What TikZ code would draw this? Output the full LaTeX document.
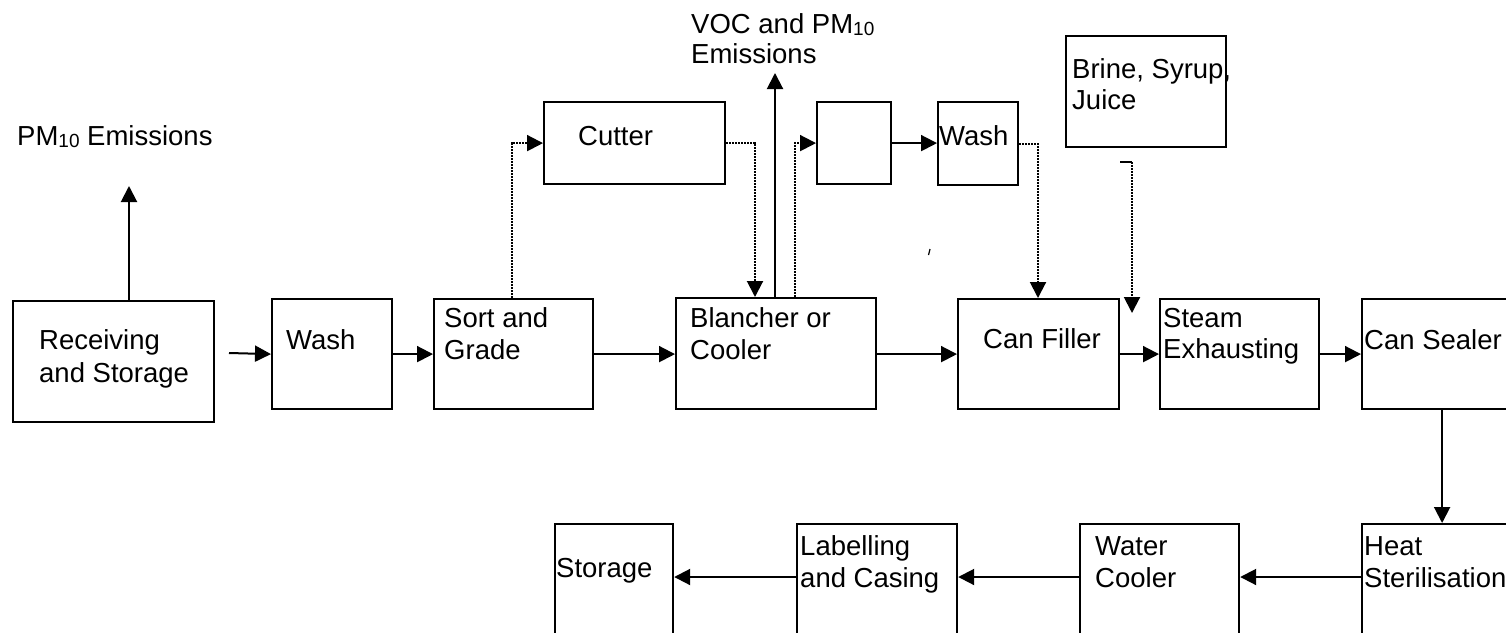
\documentclass[tikz,border=0pt]{standalone}
\usepackage{fontspec}
\setmainfont{Liberation Sans}
\usetikzlibrary{arrows.meta}
\newcommand{\subten}{\raisebox{-2.5pt}{\fontsize{19}{19}\selectfont 10}}
\begin{document}
\begin{tikzpicture}[x=1pt,y=-1pt,
  box/.style={draw,line width=2.2pt,inner sep=0pt,anchor=north west},
  txt/.style={inner sep=0pt,anchor=base west,font=\fontsize{27.5}{31.5}\selectfont},
  arr/.style={line width=2pt,-{Triangle[length=16pt,width=16pt]}},
  dotln/.style={line width=2pt,dash pattern=on 2pt off 1pt},
  plain/.style={line width=2pt}]
\useasboundingbox (0,0) rectangle (1506,632);
\clip (0,0) rectangle (1506,632);
% boxes
\node[box,minimum width=201,minimum height=121] (rec) at (12,300) {};
\node[box,minimum width=120,minimum height=110] (wash1) at (271,298) {};
\node[box,minimum width=159,minimum height=110] (sort) at (433,298) {};
\node[box,minimum width=181,minimum height=82] (cutter) at (543,101) {};
\node[box,minimum width=200,minimum height=111] (blanch) at (675,297) {};
\node[box,minimum width=74,minimum height=82] (empty) at (816,101) {};
\node[box,minimum width=80,minimum height=83] (wash2) at (937,101) {};
\node[box,minimum width=160,minimum height=111] (brine) at (1065,35) {};
\node[box,minimum width=161,minimum height=110] (filler) at (957,298) {};
\node[box,minimum width=159,minimum height=110] (steam) at (1159,298) {};
\node[box,minimum width=160,minimum height=110] (sealer) at (1361,298) {};
\node[box,minimum width=160,minimum height=140] (heat) at (1361,523) {};
\node[box,minimum width=159,minimum height=140] (water) at (1079,523) {};
\node[box,minimum width=160,minimum height=140] (label) at (796,523) {};
\node[box,minimum width=118,minimum height=140] (storage) at (554,523) {};
% texts
\node[txt] (tpm) at (17,145) {PM\subten{} Emissions};
\node[txt] (tvoca) at (691,33) {VOC and PM\subten};
\node[txt] (tvocb) at (691,63) {Emissions};
\node[txt] (treca) at (39,349) {Receiving};
\node[txt] (trecb) at (39,382) {and Storage};
\node[txt] (twash1) at (286,349) {Wash};
\node[txt] (tsorta) at (444,327) {Sort and};
\node[txt] (tsortb) at (444,359) {Grade};
\node[txt] (tcutter) at (578,145) {Cutter};
\node[txt] (tblancha) at (690,327) {Blancher or};
\node[txt] (tblanchb) at (690,359) {Cooler};
\node[txt] (twash2) at (939,145) {Wash};
\node[txt] (tbrinea) at (1072,78) {Brine, Syrup,};
\node[txt] (tbrineb) at (1072,109) {Juice};
\node[txt] (tfiller) at (983,348) {Can Filler};
\node[txt] (tsteama) at (1163,327) {Steam};
\node[txt] (tsteamb) at (1163,358) {Exhausting};
\node[txt] (tsealer) at (1364,349) {Can Sealer};
\node[txt] (theata) at (1364,555) {Heat};
\node[txt] (theatb) at (1364,587) {Sterilisation};
\node[txt] (twatera) at (1095,555) {Water};
\node[txt] (twaterb) at (1095,587) {Cooler};
\node[txt] (tlabela) at (800,555) {Labelling};
\node[txt] (tlabelb) at (800,587) {and Casing};
\node[txt] (tstorage) at (556,577) {Storage};
% helper coordinates
\coordinate (a0) at (229,353);
\coordinate (pmtip) at (129,186);
\coordinate (sc) at (512,0);
\coordinate (cc) at (755,0);
\coordinate (vtip) at (775,73);
\coordinate (bc) at (795,0);
\coordinate (wc) at (1038,0);
\coordinate (hk0) at (1120,162);
\coordinate (hk1) at (1132,162);
\coordinate (hktip) at (1132,313);
\coordinate (ay) at (0,577);
% connectors
\draw[arr] (rec.north -| pmtip) -- (pmtip);
\draw[arr] (a0) -- (wash1.west);
\draw[arr] (wash1.east) -- (sort.west);
\draw[arr] (sort.east) -- (blanch.west |- sort.east);
\draw[arr] (blanch.east |- sort.east) -- (filler.west);
\draw[arr] (filler.east) -- (steam.west);
\draw[arr] (steam.east) -- (sealer.west);
\draw[arr] (sealer.south) -- (heat.north);
\draw[arr] (heat.west |- ay) -- (water.east |- ay);
\draw[arr] (water.west |- ay) -- (label.east |- ay);
\draw[arr] (label.west |- ay) -- (storage.east |- ay);
\draw[arr] (blanch.north -| vtip) -- (vtip);
\draw[dotln,arr] (sort.north -| sc) |- (cutter.west);
\draw[dotln,arr] (cutter.east) -| (blanch.north -| cc);
\draw[dotln,arr] (blanch.north -| bc) |- (empty.west);
\draw[arr] (empty.east) -- (wash2.west |- empty.east);
\draw[dotln,arr] (wash2.east) -| (filler.north -| wc);
\draw[plain] (hk0) -- (hk1);
\draw[dotln,arr] (hk1) -- (hktip);
\draw[line width=1.2pt] (930,249) -- (928.5,255);
\end{tikzpicture}
\end{document}
